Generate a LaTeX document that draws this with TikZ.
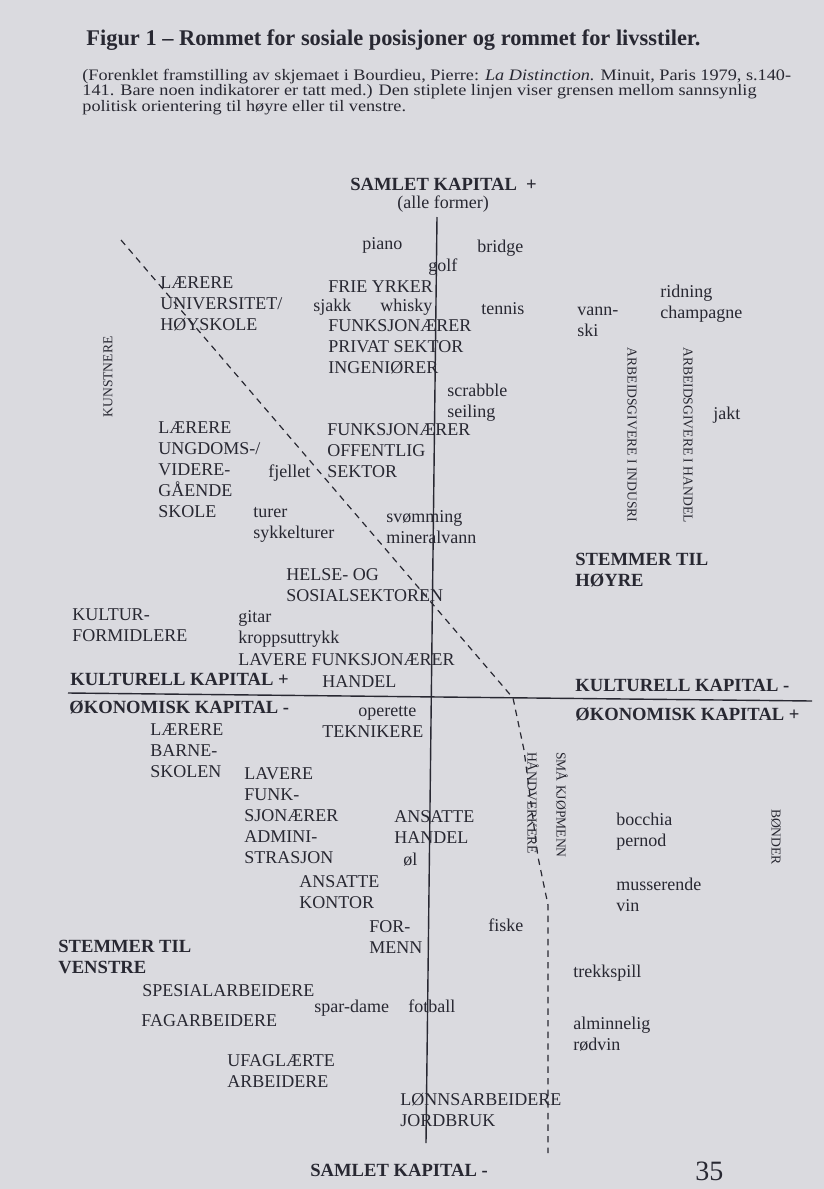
\documentclass[tikz,border=0pt]{standalone}
\usepackage{fontspec}
\setmainfont{Liberation Serif}
\newfontfamily\capfont[FakeStretch=1.14]{Liberation Serif}
\definecolor{paper}{RGB}{218,218,223}
\definecolor{ink}{RGB}{40,40,50}

\begin{document}
\begin{tikzpicture}[x=0.5pt, y=-0.5pt, ink,
  lbl/.style={anchor=base west, inner sep=0pt, align=left, font=\fontsize{9}{10.5}\selectfont},
  axlbl/.style={lbl, font=\fontsize{9.3}{10.5}\selectfont\bfseries},
  caplbl/.style={lbl, font=\capfont\fontsize{8}{9}\selectfont},
  vert/.style={inner sep=0pt, font=\fontsize{6.8}{8}\selectfont},
  axis/.style={line width=0.7pt},
  border/.style={dash pattern=on 3.2pt off 2.6pt, line width=0.6pt}]
	\useasboundingbox (0,0) rectangle (824,1189);
	\fill[paper] (0,0) rectangle (824,1189);
	\node[anchor=base west, inner sep=0pt, font=\fontsize{11.2}{13}\selectfont\bfseries] (title) at (86,45) {Figur 1 – Rommet for sosiale posisjoner og rommet for livsstiler.};
	\node[caplbl] (cap1) at (82,80) {(Forenklet framstilling av skjemaet i Bourdieu, Pierre: \textit{La Distinction.} Minuit, Paris 1979, s.140-};
	\node[caplbl] (cap2) at (82,95.5) {141. Bare noen indikatorer er tatt med.) Den stiplete linjen viser grensen mellom sannsynlig};
	\node[caplbl] (cap3) at (82,111) {politisk orientering til høyre eller til venstre.};
	% axes and the dashed border (multi-line labels sit on their last line)
	\coordinate (ktop) at (437,217);
	\coordinate (kbot) at (426,1143);
	\coordinate (kleft) at (68,693);
	\coordinate (kright) at (812,701);
	\coordinate (dtop) at (121,240);
	\coordinate (dmid) at (513,698);
	\coordinate (dbend) at (538,857);
	\coordinate (dbot) at (548,1153);
	\draw[axis] (ktop) -- (kbot);
	\draw[axis] (kleft) -- (kright);
	\draw[border] (dtop) -- (dmid) -- (524,750) -- (dbend) -- (548,905) -- (dbot);
	\node[axlbl] (samtop) at (350,190) {SAMLET KAPITAL\enspace+};
	\node[lbl] (alle) at (397,208) {(alle former)};
	\node[axlbl] (samlow) at (310,1176) {SAMLET KAPITAL -};
	\node[anchor=base west, inner sep=0pt, font=\fontsize{14}{16}\selectfont] (page) at (695,1180) {35};
	\node[axlbl] (kultpl) at (70,685) {KULTURELL KAPITAL +};
	\node[axlbl] (kultmi) at (575,691) {KULTURELL KAPITAL -};
	\node[axlbl] (okopl) at (575,720) {ØKONOMISK KAPITAL +};
	\node[axlbl] (okomi) at (69,713) {ØKONOMISK KAPITAL -};
	\node[axlbl] (hoyre) at (575,586) {STEMMER TIL\\HØYRE};
	\node[axlbl] (venstre) at (58,973) {STEMMER TIL\\VENSTRE};
	% upper half
	\node[lbl] (piano) at (362,249) {piano};
	\node[lbl] (golf) at (428,271) {golf};
	\node[lbl] (bridge) at (477,252) {bridge};
	\node[lbl] (lerun) at (160,330) {LÆRERE\\UNIVERSITET/\\HØYSKOLE};
	\node[lbl] (frie) at (328,292) {FRIE YRKER};
	\node[lbl] (sjakk) at (313,311) {sjakk};
	\node[lbl] (whisky) at (380,311) {whisky};
	\node[lbl] (funkpriv) at (328,373) {FUNKSJONÆRER\\PRIVAT SEKTOR\\INGENIØRER};
	\node[lbl] (tennis) at (481,314) {tennis};
	\node[lbl] (vannski) at (577,336) {vann-\\ski};
	\node[lbl] (ridning) at (660,318) {ridning\\champagne};
	\node[lbl] (scrabble) at (447,417) {scrabble\\seiling};
	\node[lbl] (jakt) at (713,419) {jakt};
	\node[vert, rotate=90] (kunstnere) at (108,377) {KUNSTNERE};
	\node[vert, rotate=-90] (industri) at (632,435) {ARBEIDSGIVERE I INDUSRI};
	\node[vert, rotate=-90] (handelag) at (688,435) {ARBEIDSGIVERE I HANDEL};
	\node[lbl] (lerung) at (158,517) {LÆRERE\\UNGDOMS-/\\VIDERE-\\GÅENDE\\SKOLE};
	\node[lbl] (fjellet) at (268,477) {fjellet};
	\node[lbl] (funkoff) at (327,477) {FUNKSJONÆRER\\OFFENTLIG\\SEKTOR};
	\node[lbl] (turer) at (253,538) {turer\\sykkelturer};
	\node[lbl] (svomming) at (386,543) {svømming\\mineralvann};
	\node[lbl] (helse) at (286,601) {HELSE- OG\\SOSIALSEKTOREN};
	\node[lbl] (kultur) at (72,641) {KULTUR-\\FORMIDLERE};
	\node[lbl] (gitar) at (238,643) {gitar\\kroppsuttrykk};
	\node[lbl] (lavfunk) at (238,665) {LAVERE FUNKSJONÆRER};
	\node[lbl] (handel) at (322,687) {HANDEL};
	% lower half
	\node[lbl] (operette) at (358,716) {operette};
	\node[lbl] (teknikere) at (322,737) {TEKNIKERE};
	\node[lbl] (lerbarn) at (150,777) {LÆRERE\\BARNE-\\SKOLEN};
	\node[lbl] (lavadm) at (244,863) {LAVERE\\FUNK-\\SJONÆRER\\ADMINI-\\STRASJON};
	\node[lbl] (anshandel) at (394,843) {ANSATTE\\HANDEL};
	\node[lbl] (ol) at (403,865) {øl};
	\node[lbl] (anskontor) at (299,908) {ANSATTE\\KONTOR};
	\node[lbl] (formenn) at (369,953) {FOR-\\MENN};
	\node[vert, rotate=-90] (handverk) at (533,803) {HÅNDVERKERE};
	\node[vert, rotate=-90] (kjopmenn) at (562,805) {SMÅ KJØPMENN};
	\node[vert, rotate=-90] (bonder) at (776,837) {BØNDER};
	\node[lbl] (bocchia) at (616,846) {bocchia\\pernod};
	\node[lbl] (musser) at (616,911) {musserende\\vin};
	\node[lbl] (fiske) at (488,931) {fiske};
	\node[lbl] (trekk) at (573,977) {trekkspill};
	\node[lbl] (rodvin) at (573,1050) {alminnelig\\rødvin};
	\node[lbl] (spesial) at (142,996) {SPESIALARBEIDERE};
	\node[lbl] (fagarb) at (141,1026) {FAGARBEIDERE};
	\node[lbl] (spardame) at (314,1012) {spar-dame};
	\node[lbl] (fotball) at (408,1012) {fotball};
	\node[lbl] (ufaglert) at (227,1087) {UFAGLÆRTE\\ARBEIDERE};
	\node[lbl] (jordbruk) at (400,1126) {LØNNSARBEIDERE\\JORDBRUK};
\end{tikzpicture}
\end{document}
